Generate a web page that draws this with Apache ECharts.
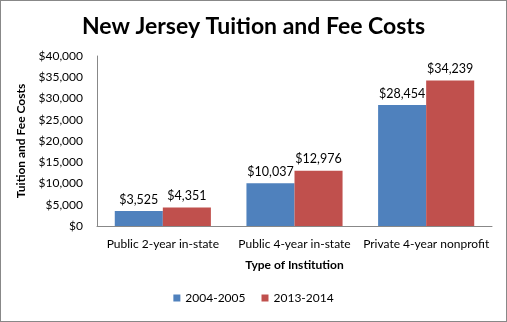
<!DOCTYPE html>
<html>
<head>
<meta charset="utf-8">
<script src="https://cdn.jsdelivr.net/npm/echarts@6/dist/echarts.min.js"></script>
<style>
  html, body { margin: 0; padding: 0; background: #fff; }
  #chart { width: 507px; height: 322px; box-sizing: border-box; border: 1px solid #888; }
</style>
</head>
<body>
<div id="chart"></div>
<script>
// Institution types on the x axis
const categories = ['Public 2-year in-state', 'Public 4-year in-state', 'Private 4-year nonprofit'];
// Average tuition and fees (USD)
const costs2004 = [3525, 10037, 28454];
const costs2013 = [4351, 12976, 34239];
const seriesNames = ['2004-2005', '2013-2014'];

const FONT = 'Lato, "Open Sans", sans-serif';
const money = v => '$' + v.toLocaleString('en-US');

const chart = echarts.init(document.getElementById('chart'));
chart.setOption({
  animation: false,
  textStyle: { fontFamily: FONT },
  title: {
    text: 'New Jersey Tuition and Fee Costs',
    left: 'center', top: 9,
    textStyle: { fontFamily: FONT, fontSize: 23, fontWeight: 'bold', color: '#000' }
  },
  legend: {
    data: seriesNames,
    bottom: 12, left: 'center',
    itemWidth: 7, itemHeight: 7, itemGap: 16,
    icon: 'rect',
    textStyle: { fontFamily: FONT, fontSize: 12, color: '#000' }
  },
  grid: { left: 96, right: 14, top: 55, bottom: 95 },
  xAxis: {
    type: 'category',
    data: categories,
    name: 'Type of Institution',
    nameLocation: 'middle', nameGap: 33,
    nameTextStyle: { fontFamily: FONT, fontSize: 12, fontWeight: 'bold', color: '#000' },
    axisLine: { lineStyle: { color: '#888' } },
    axisTick: { show: false },
    axisLabel: { fontFamily: FONT, fontSize: 12, color: '#000', margin: 12, interval: 0 }
  },
  yAxis: {
    type: 'value',
    min: 0, max: 40000, interval: 5000,
    name: 'Tuition and Fee Costs',
    nameLocation: 'middle', nameGap: 66, nameRotate: 90,
    nameTextStyle: { fontFamily: FONT, fontSize: 12, fontWeight: 'bold', color: '#000' },
    axisLine: { show: true, lineStyle: { color: '#888' } },
    axisTick: { show: false },
    splitLine: { show: false },
    axisLabel: { fontFamily: FONT, fontSize: 12, color: '#000', margin: 14, formatter: money }
  },
  series: [
    {
      name: seriesNames[0], type: 'bar', data: costs2004,
      barGap: '0%', barCategoryGap: '27%',
      itemStyle: { color: '#4F81BD' },
      label: { show: true, position: 'top', distance: 5, fontFamily: FONT, fontSize: 12.5, color: '#000', formatter: p => money(p.value) }
    },
    {
      name: seriesNames[1], type: 'bar', data: costs2013,
      itemStyle: { color: '#C0504D' },
      label: { show: true, position: 'top', distance: 5, fontFamily: FONT, fontSize: 12.5, color: '#000', formatter: p => money(p.value) }
    }
  ]
});
</script>
</body>
</html>
